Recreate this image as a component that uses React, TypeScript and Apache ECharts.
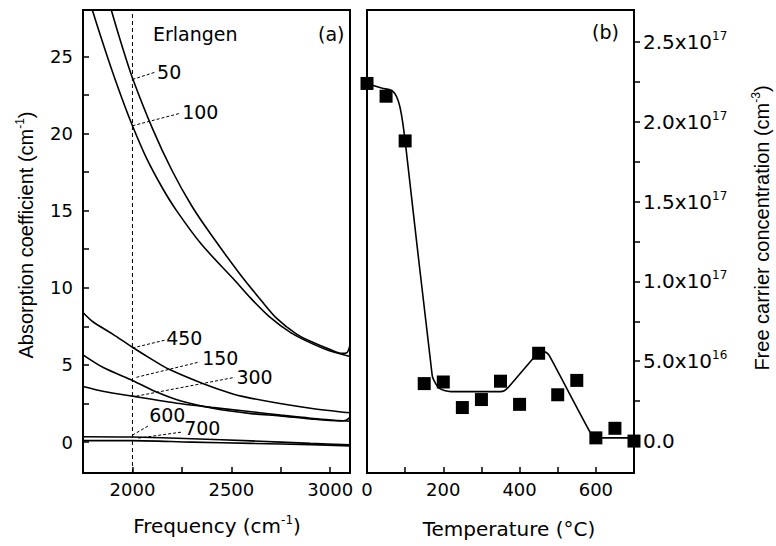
import React, { useEffect, useRef } from 'react';
import * as echarts from 'echarts';

// ---------- Panel (a): absorption spectra ----------
const curveNames = ['50', '100', '450', '150', '300', '600', '700'];
const curveFreq: number[][] = [
  [1870, 1893, 1949, 2000, 2102, 2200, 2300, 2400, 2543, 2650, 2731, 2830, 2914, 3000, 3060, 3085, 3100],
  [1780, 1797, 1883, 1949, 2000, 2071, 2150, 2223, 2350, 2509, 2600, 2695, 2800, 2914, 3000, 3100],
  [1750, 1800, 1900, 2000, 2100, 2188, 2355, 2500, 2579, 2746, 2900, 3100],
  [1750, 1850, 2000, 2122, 2250, 2406, 2600, 2746, 2900, 3050, 3080, 3100],
  [1750, 1850, 2000, 2239, 2400, 2579, 2750, 2900, 3100],
  [1750, 2000, 2300, 2600, 2900, 3100],
  [1750, 2000, 2300, 2600, 2900, 3100],
];
const curveAbs: number[][] = [
  [29.1, 28.0, 25.6, 23.6, 20.3, 17.6, 15.3, 13.4, 10.9, 9.2, 8.0, 7.0, 6.45, 6.0, 5.75, 5.8, 6.3],
  [28.8, 28.0, 24.6, 22.2, 20.5, 18.4, 16.5, 15.0, 12.8, 10.6, 9.3, 8.1, 7.1, 6.35, 5.9, 5.55],
  [8.4, 7.8, 7.0, 6.15, 5.35, 4.7, 3.8, 3.15, 2.9, 2.5, 2.2, 1.9],
  [5.65, 4.85, 4.0, 3.25, 2.65, 2.2, 1.85, 1.7, 1.5, 1.38, 1.42, 1.6],
  [3.6, 3.3, 2.98, 2.5, 2.25, 2.0, 1.75, 1.55, 1.35],
  [0.35, 0.33, 0.22, 0.08, -0.08, -0.18],
  [0.1, 0.1, 0.0, -0.08, -0.16, -0.24],
];
// leader lines and their labels (data coordinates)
const leaderStart = [[2000, 23.5], [2000, 20.5], [2000, 6.1], [2020, 4.2], [2020, 2.98], [2000, 0.45], [2030, 0.26]];
const leaderEnd = [[2112, 23.96], [2239, 21.3], [2162, 6.6], [2340, 5.2], [2518, 4.2], [2086, 1.1], [2249, 0.65]];
const labelPos = [[2122, 23.96], [2249, 21.4], [2168, 6.74], [2350, 5.45], [2523, 4.2], [2082, 1.75], [2259, 0.9]];
const markerFreq = 2000;

const freqTicks = [2000, 2500, 3000];
const freqAllTicks = [2000, 2250, 2500, 2750, 3000];
const absTicks = [0, 5, 10, 15, 20, 25];
const absAllTicks = [0, 2.5, 5, 7.5, 10, 12.5, 15, 17.5, 20, 22.5, 25];

// ---------- Panel (b): free carrier concentration ----------
const tempPts = [0, 50, 100, 150, 200, 250, 300, 350, 400, 450, 500, 550, 600, 650, 700];
const concPts = [2.24e17, 2.16e17, 1.88e17, 3.6e16, 3.7e16, 2.1e16, 2.6e16, 3.75e16, 2.3e16, 5.5e16, 2.9e16, 3.8e16, 0.2e16, 0.8e16, 0];
const fitTemp = [0, 40, 60, 72, 82, 90, 100, 171, 180, 190, 205, 220, 350, 360, 370, 440, 450, 460, 470, 478, 592, 600, 700];
const fitConc = [2.24e17, 2.21e17, 2.2e17, 2.18e17, 2.13e17, 2.05e17, 1.88e17, 4.1e16, 3.6e16, 3.3e16, 3.15e16, 3.1e16, 3.1e16, 3.15e16, 3.35e16, 5.3e16, 5.5e16, 5.6e16, 5.55e16, 5.35e16, 0.25e16, 0.2e16, 0.2e16];

const tempTicks = [0, 200, 400, 600];
const tempAllTicks = [0, 100, 200, 300, 400, 500, 600];
const concTicks = [0, 5e16, 1e17, 1.5e17, 2e17, 2.5e17];
const concAllTicks = [0, 2.5e16, 5e16, 7.5e16, 1e17, 1.25e17, 1.5e17, 1.75e17, 2e17, 2.25e17, 2.5e17];

const BLACK = '#000';
const HFONT = 'DejaVu Sans';
const VFONT = 'Liberation Sans';

const GRID_A = { left: 83, top: 10, width: 267, height: 463 };
const GRID_B = { left: 367, top: 10, width: 267, height: 463 };

function sciLabel(v: number): string {
  if (v === 0) return '{a|0.0}';
  const e = Math.floor(Math.log10(v) + 1e-9);
  const m = (v / Math.pow(10, e)).toFixed(1);
  return `{a|${m}x10}{b|${e}}`;
}

export default function App() {
  const ref = useRef<HTMLDivElement>(null);
  useEffect(() => {
    if (!ref.current) return;
    const chart = echarts.init(ref.current, null, { renderer: 'svg' });
    const lblFont = { fontFamily: HFONT, fontSize: 18, color: BLACK };

    const mkX = (grid: number, min: number, max: number, ticks: number[], labels: number[]) => ({
      gridIndex: grid, type: 'value', min, max,
      axisLine: { onZero: false },
      splitLine: { show: false },
      axisTick: { show: true, inside: true, length: 6, customValues: ticks, lineStyle: { color: BLACK, width: 1.5 } },
      axisLabel: { show: true, customValues: labels, margin: 7, formatter: (v: number) => String(v), ...lblFont },
    });

    const curveSeries = curveNames.map((n, i) => ({
      name: n, type: 'line', xAxisIndex: 0, yAxisIndex: 0, showSymbol: false, symbol: 'none',
      smooth: 0.3, clip: true,
      lineStyle: { color: BLACK, width: 1.6 },
      data: curveFreq[i].map((f, j) => [f, curveAbs[i][j]]),
    }));
    const leaderSeries = curveNames.map((n, i) => ({
      name: 'leader ' + n, type: 'line', xAxisIndex: 0, yAxisIndex: 0, showSymbol: false, symbol: 'none',
      lineStyle: { color: BLACK, width: 1, type: [3, 2] },
      data: [leaderStart[i], leaderEnd[i]],
    }));

    const option: any = {
      animation: false,
      backgroundColor: '#fff',
      grid: [
        { ...GRID_A, show: true, borderColor: BLACK },
        { ...GRID_B, show: true, borderColor: BLACK },
      ],
      xAxis: [
        mkX(0, 1750, 3100, freqAllTicks, freqTicks),
        mkX(1, 0, 700, tempAllTicks, tempTicks),
      ],
      yAxis: [
        {
          gridIndex: 0, type: 'value', min: -2, max: 28,
          axisLine: { onZero: false },
          splitLine: { show: false },
          axisTick: { show: true, inside: true, length: 6, customValues: absAllTicks, lineStyle: { color: BLACK, width: 1.5 } },
          axisLabel: { show: true, customValues: absTicks, margin: 10, ...lblFont },
        },
        {
          gridIndex: 1, type: 'value', min: -2e16, max: 2.7e17, position: 'right',
          axisLine: { onZero: false },
          splitLine: { show: false },
          axisTick: { show: true, inside: false, length: 6, customValues: concAllTicks, lineStyle: { color: BLACK, width: 1.5 } },
          axisLabel: {
            show: true, customValues: concTicks, margin: 9,
            formatter: (v: number) => sciLabel(v),
            rich: {
              a: { fontFamily: HFONT, fontSize: 20, color: BLACK, lineHeight: 24 },
              b: { fontFamily: HFONT, fontSize: 12, color: BLACK, verticalAlign: 'top', lineHeight: 12 },
            },
          },
        },
      ],
      series: [
        {
          name: 'marker', type: 'line', xAxisIndex: 0, yAxisIndex: 0, showSymbol: false, symbol: 'none',
          lineStyle: { color: BLACK, width: 1, type: [4, 3] },
          data: [[markerFreq, -2], [markerFreq, 28]],
        },
        ...curveSeries,
        ...leaderSeries,
        {
          name: 'labels', type: 'scatter', xAxisIndex: 0, yAxisIndex: 0, symbol: 'rect', symbolSize: 1,
          itemStyle: { color: 'rgba(0,0,0,0)', opacity: 1 },
          label: {
            show: true, position: 'right', distance: 0, opacity: 1,
            formatter: (p: any) => p.name, fontFamily: HFONT, fontSize: 19, color: BLACK,
          },
          data: curveNames.map((n, i) => ({ name: n, value: labelPos[i] })),
        },
        {
          name: 'fit', type: 'line', xAxisIndex: 1, yAxisIndex: 1, showSymbol: false, symbol: 'none',
          smooth: 0.25, lineStyle: { color: BLACK, width: 1.6 },
          data: fitTemp.map((t, i) => [t, fitConc[i]]),
        },
        {
          name: 'concentration', type: 'scatter', xAxisIndex: 1, yAxisIndex: 1, symbol: 'rect', symbolSize: 13,
          clip: false, itemStyle: { color: BLACK, opacity: 1 },
          data: tempPts.map((t, i) => [t, concPts[i]]),
        },
      ],
      graphic: [
        {
          type: 'rect', silent: true, z: 50,
          shape: { x: GRID_A.left, y: GRID_A.top, width: GRID_A.width, height: GRID_A.height },
          style: { fill: 'none', stroke: BLACK, lineWidth: 2 },
        },
        {
          type: 'rect', silent: true, z: 50,
          shape: { x: GRID_B.left, y: GRID_B.top, width: GRID_B.width, height: GRID_B.height },
          style: { fill: 'none', stroke: BLACK, lineWidth: 2 },
        },
        { type: 'text', left: 153, top: 24, style: { text: 'Erlangen', fontFamily: HFONT, fontSize: 19, fill: BLACK } },
        { type: 'text', left: 318, top: 24, style: { text: '(a)', fontFamily: HFONT, fontSize: 19, fill: BLACK } },
        { type: 'text', left: 592, top: 22, style: { text: '(b)', fontFamily: HFONT, fontSize: 19, fill: BLACK } },
        {
          type: 'text', x: 217, y: 526,
          style: {
            text: '{t|Frequency (cm}{s|-1}{t|)}', align: 'center', verticalAlign: 'middle',
            rich: {
              t: { fontFamily: HFONT, fontSize: 20, fill: BLACK, color: BLACK, lineHeight: 24 },
              s: { fontFamily: HFONT, fontSize: 12, fill: BLACK, color: BLACK, verticalAlign: 'top', lineHeight: 12 },
            },
          },
        },
        {
          type: 'text', x: 509, y: 529,
          style: {
            text: 'Temperature (°C)', align: 'center', verticalAlign: 'middle',
            fontFamily: HFONT, fontSize: 20, fill: BLACK,
          },
        },
        {
          type: 'text', x: 26, y: 235, rotation: Math.PI / 2,
          style: {
            text: '{t|Absorption coefficient (cm}{s|-1}{t|)}', align: 'center', verticalAlign: 'middle',
            rich: {
              t: { fontFamily: VFONT, fontSize: 20, fill: BLACK, color: BLACK, lineHeight: 24 },
              s: { fontFamily: VFONT, fontSize: 12, fill: BLACK, color: BLACK, verticalAlign: 'top', lineHeight: 12 },
            },
          },
        },
        {
          type: 'text', x: 762, y: 228, rotation: Math.PI / 2,
          style: {
            text: '{t|Free carrier concentration (cm}{s|-3}{t|)}', align: 'center', verticalAlign: 'middle',
            rich: {
              t: { fontFamily: VFONT, fontSize: 20, fill: BLACK, color: BLACK, lineHeight: 24 },
              s: { fontFamily: VFONT, fontSize: 12, fill: BLACK, color: BLACK, verticalAlign: 'top', lineHeight: 12 },
            },
          },
        },
      ],
    };
    chart.setOption(option);
    return () => chart.dispose();
  }, []);
  return <div ref={ref} style={{ position: 'absolute', left: 0, top: 0, width: 776, height: 546 }} />;
}
